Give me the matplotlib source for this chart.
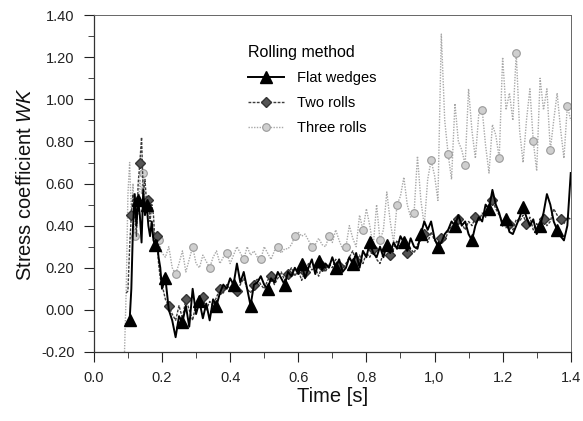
import numpy as np
import matplotlib
matplotlib.use("Agg")
import matplotlib.pyplot as plt
from matplotlib.ticker import MultipleLocator

plt.rcParams["font.family"] = ["Liberation Sans", "DejaVu Sans"]
plt.rcParams["mathtext.fontset"] = "custom"
plt.rcParams["mathtext.it"] = "Liberation Sans:italic"
plt.rcParams["mathtext.rm"] = "Liberation Sans"

# ----------------------------
# Data
# ----------------------------
# early part, fine time steps (s)
flat_t0 = [0.105, 0.110, 0.115, 0.120, 0.125, 0.130, 0.135, 0.140, 0.145, 0.150,
           0.155, 0.160, 0.165, 0.170, 0.175, 0.180, 0.185, 0.190, 0.195]
flat_v0 = [-0.05, 0.10, 0.40, 0.55, 0.40, 0.52, 0.45, 0.32, 0.57, 0.45,
           0.50, 0.40, 0.35, 0.42, 0.33, 0.31, 0.33, 0.25, 0.20]

two_t0 = [0.095, 0.100, 0.105, 0.110, 0.115, 0.120, 0.125, 0.130, 0.135, 0.140,
          0.145, 0.150, 0.155, 0.160, 0.165, 0.170, 0.175, 0.180, 0.185, 0.190, 0.195]
two_v0 = [0.08, 0.09, 0.30, 0.45, 0.55, 0.50, 0.35, 0.60, 0.70, 0.82,
          0.55, 0.62, 0.50, 0.52, 0.42, 0.50, 0.45, 0.30, 0.35, 0.22, 0.15]

three_t0 = [0.090, 0.095, 0.100, 0.105, 0.110, 0.115, 0.120, 0.125, 0.130, 0.135,
            0.140, 0.145, 0.150, 0.160, 0.170, 0.180, 0.190]
three_v0 = [-0.20, 0.10, 0.55, 0.70, 0.45, 0.60, 0.35, 0.50, 0.45, 0.62,
            0.55, 0.65, 0.50, 0.45, 0.40, 0.36, 0.33]

# from 0.20 s to 1.40 s in 0.01 s steps
flat_v = [
    0.10, 0.15, 0.00, -0.05, -0.13, -0.03, -0.06, 0.02, -0.08, 0.10,
    -0.02, 0.04, -0.04, 0.03, -0.05, 0.05, 0.02, 0.08, 0.12, 0.10,
    0.15, 0.12, 0.22, 0.13, 0.18, 0.10, 0.02, 0.12, 0.13, 0.16,
    0.12, 0.10, 0.15, 0.13, 0.18, 0.15, 0.12, 0.18, 0.16, 0.20,
    0.17, 0.22, 0.15, 0.20, 0.24, 0.17, 0.23, 0.19, 0.22, 0.20,
    0.25, 0.20, 0.24, 0.18, 0.20, 0.25, 0.22, 0.27, 0.20, 0.28,
    0.25, 0.32, 0.27, 0.25, 0.30, 0.25, 0.31, 0.27, 0.32, 0.29,
    0.35, 0.32, 0.28, 0.34, 0.30, 0.29, 0.36, 0.42, 0.38, 0.42,
    0.34, 0.30, 0.32, 0.36, 0.38, 0.42, 0.40, 0.45, 0.40, 0.42,
    0.36, 0.33, 0.40, 0.44, 0.42, 0.50, 0.48, 0.57, 0.50, 0.46,
    0.40, 0.43, 0.37, 0.36, 0.40, 0.44, 0.49, 0.44, 0.40, 0.43,
    0.36, 0.40, 0.46, 0.55, 0.50, 0.42, 0.38, 0.35, 0.33, 0.40,
    0.65,
]
two_v = [
    0.12, 0.05, 0.02, -0.02, -0.05, 0.02, -0.04, 0.05, 0.00, -0.05,
    0.03, 0.02, 0.06, 0.00, 0.04, 0.02, 0.06, 0.10, 0.08, 0.12,
    0.10, 0.14, 0.09, 0.12, 0.15, 0.10, 0.08, 0.12, 0.15, 0.12,
    0.10, 0.14, 0.16, 0.12, 0.15, 0.18, 0.14, 0.17, 0.20, 0.16,
    0.19, 0.14, 0.18, 0.22, 0.19, 0.20, 0.16, 0.21, 0.18, 0.22,
    0.20, 0.24, 0.21, 0.19, 0.22, 0.25, 0.28, 0.23, 0.26, 0.22,
    0.27, 0.25, 0.29, 0.24, 0.22, 0.27, 0.30, 0.26, 0.29, 0.33,
    0.30, 0.34, 0.27, 0.29, 0.27, 0.31, 0.33, 0.36, 0.32, 0.37,
    0.33, 0.31, 0.34, 0.33, 0.37, 0.40, 0.38, 0.43, 0.41, 0.38,
    0.42, 0.40, 0.44, 0.42, 0.46, 0.44, 0.49, 0.52, 0.48, 0.45,
    0.42, 0.39, 0.41, 0.38, 0.43, 0.42, 0.45, 0.41, 0.44, 0.38,
    0.41, 0.38, 0.43, 0.40, 0.42, 0.48, 0.45, 0.43, 0.41, 0.44,
    0.43,
]
three_v = [
    0.27, 0.25, 0.30, 0.20, 0.17, 0.22, 0.28, 0.18, 0.24, 0.30,
    0.22, 0.20, 0.26, 0.23, 0.20, 0.25, 0.28, 0.22, 0.25, 0.27,
    0.22, 0.26, 0.30, 0.27, 0.24, 0.30, 0.26, 0.28, 0.25, 0.24,
    0.30, 0.27, 0.24, 0.28, 0.30, 0.27, 0.29, 0.29, 0.31, 0.35,
    0.37, 0.35, 0.36, 0.33, 0.30, 0.31, 0.34, 0.31, 0.30, 0.35,
    0.32, 0.38, 0.33, 0.29, 0.30, 0.40, 0.34, 0.30, 0.45, 0.38,
    0.48, 0.40, 0.30, 0.50, 0.33, 0.38, 0.56, 0.42, 0.32, 0.50,
    0.54, 0.63, 0.50, 0.44, 0.46, 0.73, 0.52, 0.40, 0.62, 0.71,
    0.64, 0.52, 1.31, 0.90, 0.74, 0.62, 0.98, 0.80, 0.76, 0.69,
    1.05, 0.85, 0.72, 0.93, 0.95, 0.78, 0.65, 0.88, 0.83, 0.72,
    1.20, 0.95, 1.03, 0.90, 1.22, 0.85, 0.70, 0.90, 1.05, 0.80,
    0.66, 1.10, 0.95, 1.05, 0.76, 0.90, 1.03, 0.86, 0.72, 0.97,
    0.90,
]

x_ticks = [0.0, 0.2, 0.4, 0.6, 0.8, 1.0, 1.2, 1.4]
x_tick_labels = ["0.0", "0.2", "0.4", "0.6", "0.8", "1,0", "1.2", "1.4"]
y_ticks = [-0.2, 0.0, 0.2, 0.4, 0.6, 0.8, 1.0, 1.2, 1.4]


def full_series(t0, v0, v):
    t_late = 0.20 + 0.01 * np.arange(len(v))
    return np.concatenate([t0, t_late]), np.concatenate([v0, v])


fig = plt.figure(figsize=(5.83, 4.21), dpi=100)
ax = fig.add_axes([0.161, 0.164, 0.818, 0.800])

t3, v3 = full_series(three_t0, three_v0, three_v)
t2, v2 = full_series(two_t0, two_v0, two_v)
t1, v1 = full_series(flat_t0, flat_v0, flat_v)

ax.plot(t3, v3, color="#a8a8a8", linestyle=(0, (1, 1)), linewidth=1.0,
        marker="o", markevery=(6, 5), markersize=5.5,
        markerfacecolor="#cfcfcf", markeredgecolor="#9a9a9a", markeredgewidth=0.8,
        label="Three rolls", zorder=2)
ax.plot(t2, v2, color="#3c3c3c", linestyle=(0, (2, 1)), linewidth=1.0,
        marker="D", markevery=(3, 5), markersize=5,
        markerfacecolor="#555555", markeredgecolor="#333333",
        label="Two rolls", zorder=3)
ax.plot(t1, v1, color="black", linestyle="-", linewidth=1.4,
        marker="^", markevery=(0, 5), markersize=8,
        markerfacecolor="black", markeredgecolor="black",
        label="Flat wedges", zorder=4)

ax.set_xlim(0.0, 1.4)
ax.set_ylim(-0.2, 1.4)
ax.set_xticks(x_ticks)
ax.set_xticklabels(x_tick_labels)
ax.set_yticks(y_ticks)
ax.set_yticklabels([f"{y:.2f}" for y in y_ticks])
ax.xaxis.set_minor_locator(MultipleLocator(0.1))
ax.yaxis.set_minor_locator(MultipleLocator(0.1))
ax.tick_params(which="major", direction="out", length=7, width=0.8,
               labelsize=10.5, colors="#222222", pad=7)
ax.tick_params(which="minor", direction="out", length=4, width=0.7, colors="#444444")

for side in ["left", "bottom"]:
    ax.spines[side].set_color("#333333")
    ax.spines[side].set_linewidth(0.9)
for side in ["top", "right"]:
    ax.spines[side].set_color("#666666")
    ax.spines[side].set_linewidth(0.7)

ax.set_xlabel("Time [s]", fontsize=14.5, color="#111111", labelpad=1)
ax.set_ylabel("Stress coefficient $\\mathit{WK}$", fontsize=14.5, color="#111111", labelpad=4)

handles, labels = ax.get_legend_handles_labels()
order = [2, 1, 0]
leg = ax.legend([handles[i] for i in order], [labels[i] for i in order],
                title="Rolling method", loc="upper left",
                bbox_to_anchor=(0.295, 0.95), frameon=False,
                fontsize=10.5, title_fontsize=11.5, handlelength=2.5,
                numpoints=1, labelspacing=0.75, handletextpad=0.9)
leg._legend_box.align = "left"

fig.savefig("out.png", dpi=100)
